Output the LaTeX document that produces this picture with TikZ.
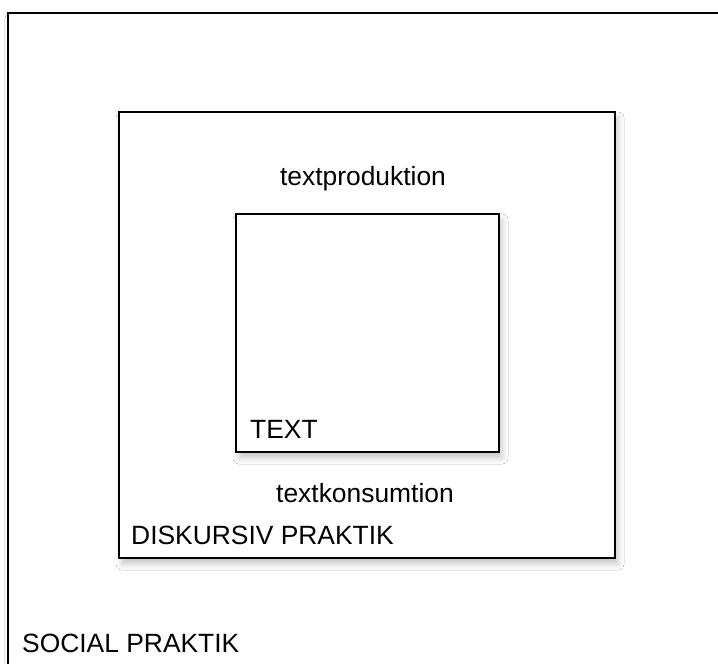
\documentclass[tikz,border=0pt]{standalone}
\usepackage{fontspec}
\setmainfont{Liberation Sans}
\usetikzlibrary{shadows.blur}

\tikzset{
  frame/.style={draw, line width=1.6pt, fill=white, inner sep=0pt,
    blur shadow={shadow xshift=3pt, shadow yshift=-6pt, shadow blur radius=6pt, shadow opacity=22}},
  lbl/.style={inner sep=0pt, font=\fontsize{26.4}{30}\selectfont}
}

\begin{document}
\begin{tikzpicture}[x=1pt, y=-1pt]
\useasboundingbox (0,0) rectangle (718,664);
\clip (0,0) rectangle (718,664);
\fill[white] (0,0) rectangle (718,664);
% outer box, open to the right and bottom
\node[frame, line width=2pt, minimum width=740pt, minimum height=690pt] (social) at (378,358) {};
\node[frame, minimum width=496pt, minimum height=446pt] (diskursiv) at (367,335) {};
\node[frame, minimum width=263pt, minimum height=238pt] (text) at (367.5,333) {};

\node[lbl] (prod) at (363,178.5) {textproduktion};
\node[lbl, anchor=west] (textlbl) at (250,429) {TEXT};
\node[lbl] (kons) at (365,493) {textkonsumtion};
\node[lbl, anchor=west] (disklbl) at (131,535) {DISKURSIV PRAKTIK};
\node[lbl, anchor=west] (soclbl) at (22,643) {SOCIAL PRAKTIK};
\end{tikzpicture}
\end{document}
